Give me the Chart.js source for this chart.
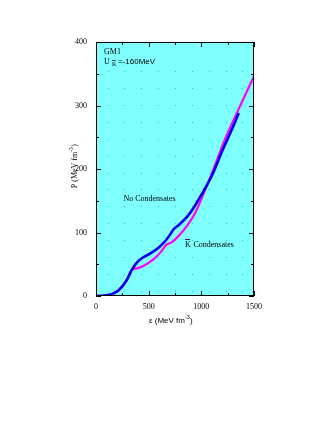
<!DOCTYPE html>
<html>
<head>
<meta charset="utf-8">
<script src="https://cdn.jsdelivr.net/npm/chart.js@4"></script>
<style>
  html, body { margin: 0; padding: 0; background: #fff; }
  #wrap { width: 327px; height: 423px; }
</style>
</head>
<body>
<div id="wrap"><canvas id="eosChart" width="327" height="423"></canvas></div>
<script>
// energy density (MeV fm^-3) vs pressure (MeV fm^-3)
var noCondEps = [0, 50, 100, 150, 215, 288, 343, 390, 438, 517, 596, 660, 707, 739, 786, 866, 929, 967, 1024, 1104, 1200, 1300, 1355];
var noCondP   = [0, 0.3, 1, 3, 9, 24, 42, 53, 59.8, 67, 76.5, 87, 97.6, 105.5, 111.8, 125, 139.5, 150, 166, 191, 229, 266, 288];
var kaonEps = [0, 50, 100, 150, 215, 288, 343, 390, 453, 548, 612, 669, 717, 771, 866, 945, 993, 1100, 1215, 1342, 1500];
var kaonP   = [0, 0.3, 1, 3, 9, 24, 41.4, 43.5, 47.7, 58, 68.7, 80.8, 84.4, 92.3, 110.7, 131.7, 150, 193, 243, 290, 346];
var xTickStep = 250, yTickStep = 50;
var dotX = [110, 270, 430, 590, 750, 910, 1070, 1230, 1390];
var dotY = [354, 327.4, 300.8, 274.2, 247.6, 221, 194.4, 167.8, 141.2, 114.6, 88, 61.4, 34.8, 8.2];

function pts(xs, ys) {
    return xs.map(function (x, i) { return { x: x, y: ys[i] }; });
}

var serif = '"Liberation Serif", "DejaVu Serif", serif';
var sans = '"Liberation Sans", Arial, sans-serif';

var decor = {
    id: 'decor',
    beforeDatasetsDraw: function (chart) {
        var c = chart.ctx, a = chart.chartArea, sx = chart.scales.x, sy = chart.scales.y;
        c.save();
        c.fillStyle = '#80ffff';
        c.fillRect(a.left, a.top, a.right - a.left, a.bottom - a.top);
        c.fillStyle = '#10c8d8';
        dotX.forEach(function (vx) {
            dotY.forEach(function (vy) {
                c.fillRect(Math.round(sx.getPixelForValue(vx)), Math.round(sy.getPixelForValue(vy)), 1, 1);
            });
        });
        c.restore();
    },
    afterDraw: function (chart) {
        var c = chart.ctx, a = chart.chartArea, sx = chart.scales.x, sy = chart.scales.y;
        c.save();
        c.strokeStyle = '#000';
        c.lineWidth = 1;
        c.strokeRect(a.left + 0.5, a.top + 0.5, a.right - a.left - 1, a.bottom - a.top - 1);
        c.beginPath();
        sx.ticks.forEach(function (t) {
            var px = Math.round(sx.getPixelForValue(t.value)) + 0.5;
            var len = t.value % 500 === 0 ? 5 : 3;
            c.moveTo(px, a.bottom); c.lineTo(px, a.bottom - len);
            c.moveTo(px, a.top); c.lineTo(px, a.top + len);
        });
        sy.ticks.forEach(function (t) {
            var py = Math.round(sy.getPixelForValue(t.value)) + 0.5;
            var len = t.value % 100 === 0 ? 5 : 3;
            c.moveTo(a.left, py); c.lineTo(a.left + len, py);
            c.moveTo(a.right, py); c.lineTo(a.right - len, py);
        });
        c.stroke();

        c.fillStyle = '#000';
        c.textBaseline = 'alphabetic';
        // in-plot labels
        c.font = '8px ' + serif;
        c.fillText('GM1', a.left + 8, a.top + 12);
        c.fillText('U', a.left + 8, a.top + 22);
        c.font = '6px ' + serif;
        c.fillText('K', a.left + 16, a.top + 24);
        c.fillRect(a.left + 16, a.top + 18, 4, 0.7);
        c.font = '8px ' + sans;
        c.fillText('=-160MeV', a.left + 22, a.top + 22);

        c.font = '8px ' + serif;
        c.fillText('No Condensates', sx.getPixelForValue(260), sy.getPixelForValue(150));
        c.fillText('K', sx.getPixelForValue(845), sy.getPixelForValue(77));
        c.fillRect(sx.getPixelForValue(845), sy.getPixelForValue(77) - 8, 5, 0.8);
        c.fillText('Condensates', sx.getPixelForValue(925), sy.getPixelForValue(77));

        // axis titles
        c.font = '8px ' + sans;
        var tx = 'ε (MeV fm', tw = c.measureText(tx).width;
        var cx = (a.left + a.right) / 2 - 8;
        c.fillText(tx, cx - tw / 2, a.bottom + 27);
        c.font = '5.5px ' + sans;
        c.fillText('-3', cx + tw / 2, a.bottom + 23);
        c.font = '8px ' + sans;
        c.fillText(')', cx + tw / 2 + 5, a.bottom + 27);

        c.font = '8px ' + serif;
        c.translate(a.left - 19, sy.getPixelForValue(200) - 2);
        c.rotate(-Math.PI / 2);
        var ty = 'P (MeV fm', tyw = c.measureText(ty).width;
        c.fillText(ty, -tyw / 2 - 3, 0);
        c.font = '5.5px ' + serif;
        c.fillText('-3', tyw / 2 - 3, -4);
        c.font = '8px ' + serif;
        c.fillText(')', tyw / 2 + 2, 0);
        c.restore();
    }
};

new Chart(document.getElementById('eosChart'), {
    type: 'line',
    data: {
        datasets: [
            { label: 'No Condensates', data: pts(noCondEps, noCondP), borderColor: '#0000ee', borderWidth: 2.6, pointRadius: 0, cubicInterpolationMode: 'monotone', fill: false },
            { label: 'K Condensates', data: pts(kaonEps, kaonP), borderColor: '#ff00ff', borderWidth: 2.2, pointRadius: 0, cubicInterpolationMode: 'monotone', fill: false }
        ]
    },
    options: {
        responsive: false,
        animation: false,
        devicePixelRatio: 1,
        layout: { padding: { left: 0, right: 73, top: 42, bottom: 0 } },
        plugins: { legend: { display: false }, tooltip: { enabled: false } },
        scales: {
            x: {
                type: 'linear', min: 0, max: 1500,
                afterFit: function (s) { s.height = 423 - 296; },
                grid: { display: false },
                border: { display: false },
                ticks: {
                    stepSize: xTickStep, maxRotation: 0, autoSkip: false, padding: -2,
                    color: '#000', font: { family: serif, size: 8 },
                    callback: function (v) { return v % 500 === 0 ? v : ''; }
                }
            },
            y: {
                type: 'linear', min: 0, max: 400,
                afterFit: function (s) { s.width = 96; },
                grid: { display: false },
                border: { display: false },
                ticks: {
                    stepSize: yTickStep, autoSkip: false, padding: 1,
                    color: '#000', font: { family: serif, size: 8 },
                    callback: function (v) { return v % 100 === 0 ? v : ''; }
                }
            }
        }
    },
    plugins: [decor]
});
</script>
</body>
</html>
